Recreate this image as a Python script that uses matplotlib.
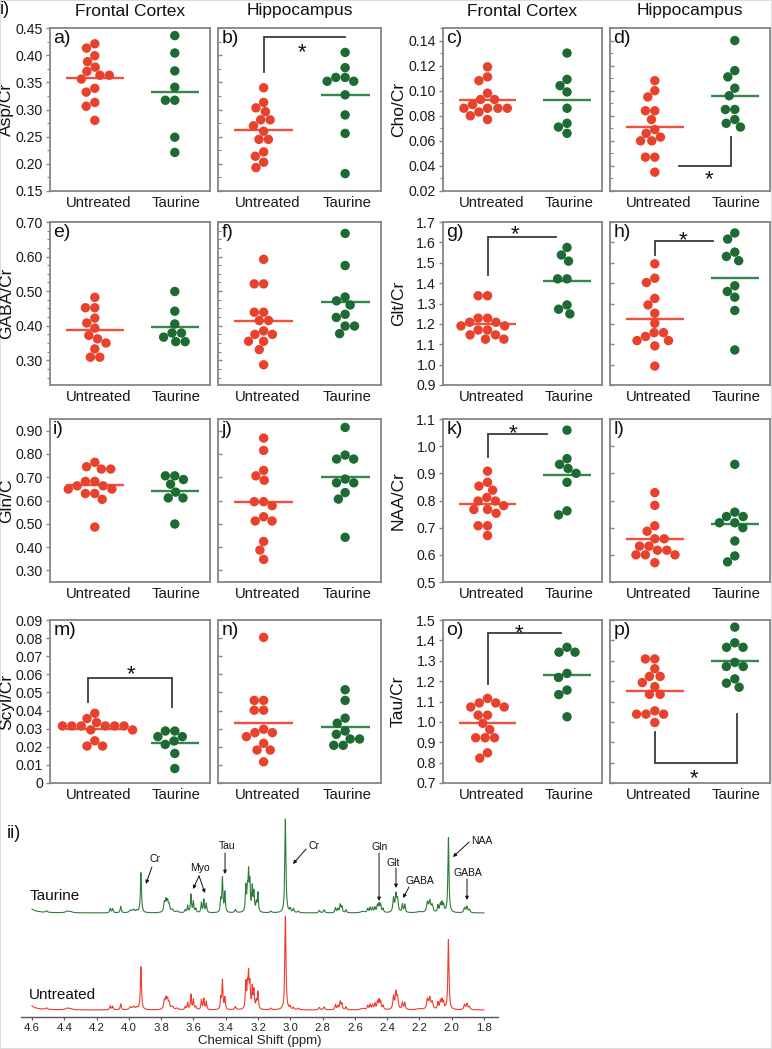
import numpy as np
import matplotlib
matplotlib.use('Agg')
import matplotlib.pyplot as plt
from matplotlib import transforms
from matplotlib.ticker import FixedLocator, MultipleLocator, NullLocator
from matplotlib.patches import Rectangle

plt.rcParams['font.family'] = ['Liberation Sans', 'DejaVu Sans']

# ---------------- data ----------------
groups = ['Untreated', 'Taurine']
regions = ['Frontal Cortex', 'Hippocampus']

asp_fc_unt = [0.421, 0.413, 0.399, 0.388, 0.378, 0.370, 0.363, 0.363, 0.356, 0.339, 0.332, 0.313, 0.306, 0.280]
asp_fc_tau = [0.436, 0.404, 0.371, 0.341, 0.317, 0.317, 0.249, 0.221]
asp_hc_unt = [0.340, 0.313, 0.303, 0.296, 0.281, 0.281, 0.270, 0.260, 0.245, 0.245, 0.222, 0.214, 0.203, 0.193]
asp_hc_tau = [0.405, 0.377, 0.359, 0.352, 0.352, 0.359, 0.327, 0.290, 0.256, 0.182]

cho_fc_unt = [0.119, 0.108, 0.111, 0.098, 0.093, 0.093, 0.086, 0.086, 0.089, 0.086, 0.086, 0.080, 0.083, 0.077]
cho_fc_tau = [0.130, 0.109, 0.104, 0.099, 0.086, 0.074, 0.071, 0.066]
cho_hc_unt = [0.108, 0.100, 0.095, 0.084, 0.084, 0.077, 0.069, 0.066, 0.063, 0.060, 0.060, 0.047, 0.047, 0.035]
cho_hc_tau = [0.140, 0.116, 0.111, 0.102, 0.096, 0.085, 0.085, 0.077, 0.074, 0.071]

gaba_fc_unt = [0.482, 0.452, 0.452, 0.422, 0.408, 0.393, 0.372, 0.362, 0.350, 0.333, 0.309, 0.309]
gaba_fc_tau = [0.499, 0.442, 0.405, 0.379, 0.367, 0.379, 0.354, 0.354]
gaba_hc_unt = [0.592, 0.521, 0.521, 0.439, 0.439, 0.415, 0.415, 0.385, 0.375, 0.375, 0.355, 0.355, 0.331, 0.287]
gaba_hc_tau = [0.667, 0.574, 0.472, 0.483, 0.460, 0.424, 0.433, 0.399, 0.399, 0.377]

glt_fc_unt = [1.338, 1.338, 1.228, 1.228, 1.208, 1.208, 1.190, 1.190, 1.170, 1.170, 1.146, 1.146, 1.125, 1.125]
glt_fc_tau = [1.575, 1.538, 1.508, 1.421, 1.421, 1.272, 1.293, 1.249]
glt_hc_unt = [1.495, 1.424, 1.403, 1.325, 1.293, 1.252, 1.203, 1.157, 1.157, 1.138, 1.118, 1.092, 1.118, 0.993]
glt_hc_tau = [1.646, 1.616, 1.531, 1.552, 1.510, 1.387, 1.359, 1.331, 1.266, 1.072]

gln_fc_unt = [0.764, 0.745, 0.735, 0.735, 0.682, 0.682, 0.663, 0.663, 0.649, 0.649, 0.630, 0.630, 0.605, 0.486]
gln_fc_tau = [0.706, 0.706, 0.690, 0.670, 0.636, 0.611, 0.611, 0.499]
gln_hc_unt = [0.868, 0.815, 0.729, 0.706, 0.687, 0.595, 0.595, 0.578, 0.530, 0.512, 0.512, 0.424, 0.387, 0.347]
gln_hc_tau = [0.914, 0.795, 0.778, 0.778, 0.692, 0.676, 0.676, 0.634, 0.606, 0.442]

naa_fc_unt = [0.908, 0.867, 0.853, 0.838, 0.811, 0.798, 0.798, 0.781, 0.767, 0.767, 0.753, 0.707, 0.707, 0.671]
naa_fc_tau = [1.059, 0.954, 0.933, 0.918, 0.900, 0.867, 0.762, 0.747]
naa_hc_unt = [0.829, 0.782, 0.707, 0.687, 0.659, 0.659, 0.632, 0.632, 0.617, 0.617, 0.600, 0.600, 0.600, 0.571]
naa_hc_tau = [0.933, 0.757, 0.741, 0.741, 0.718, 0.718, 0.700, 0.651, 0.596, 0.574]

scyl_fc_unt = [0.0385, 0.0356, 0.0334, 0.0315, 0.0315, 0.0315, 0.0315, 0.0315, 0.0315, 0.0293, 0.0293, 0.0233, 0.0204, 0.0204]
scyl_fc_tau = [0.0287, 0.0287, 0.0256, 0.0256, 0.0232, 0.0213, 0.0163, 0.0080]
scyl_hc_unt = [0.0804, 0.0456, 0.0456, 0.0402, 0.0402, 0.0297, 0.0278, 0.0278, 0.0256, 0.0219, 0.0182, 0.0182, 0.0117]
scyl_hc_tau = [0.0515, 0.0456, 0.0358, 0.0330, 0.0287, 0.0269, 0.0243, 0.0243, 0.0208, 0.0208]

tau_fc_unt = [1.115, 1.093, 1.093, 1.073, 1.073, 1.033, 1.033, 0.993, 0.962, 0.922, 0.922, 0.922, 0.848, 0.822]
tau_fc_tau = [1.366, 1.342, 1.342, 1.238, 1.218, 1.156, 1.134, 1.025]
tau_hc_unt = [1.309, 1.309, 1.261, 1.223, 1.223, 1.193, 1.173, 1.135, 1.135, 1.054, 1.038, 1.038, 1.038, 0.997]
tau_hc_tau = [1.465, 1.388, 1.366, 1.366, 1.292, 1.272, 1.272, 1.211, 1.190, 1.170]

asp_ticks = [0.15, 0.20, 0.25, 0.30, 0.35, 0.40, 0.45]
cho_ticks = [0.02, 0.04, 0.06, 0.08, 0.10, 0.12, 0.14]
gaba_ticks = [0.30, 0.40, 0.50, 0.60, 0.70]
glt_ticks = [0.9, 1.0, 1.1, 1.2, 1.3, 1.4, 1.5, 1.6, 1.7]
gln_ticks = [0.30, 0.40, 0.50, 0.60, 0.70, 0.80, 0.90]
naa_ticks = [0.5, 0.6, 0.7, 0.8, 0.9, 1.0, 1.1]
scyl_ticks = [0, 0.01, 0.02, 0.03, 0.04, 0.05, 0.06, 0.07, 0.08, 0.09]
tau_ticks = [0.7, 0.8, 0.9, 1.0, 1.1, 1.2, 1.3, 1.4, 1.5]

# NMR spectrum peak table (ppm, half width, height for Taurine / Untreated traces)
peak_ppm = [4.66, 4.51, 4.38, 4.36, 4.115, 4.100, 4.05, 3.99, 3.97, 3.95, 3.925,
            3.78, 3.77, 3.76, 3.75, 3.73, 3.70, 3.65, 3.635, 3.615, 3.60, 3.585,
            3.55, 3.535, 3.52, 3.43, 3.42, 3.405, 3.34,
            3.275, 3.265, 3.258, 3.25, 3.235, 3.225, 3.21, 3.20, 3.12, 3.03,
            3.00, 2.98, 2.95, 2.82, 2.79, 2.72, 2.705, 2.69, 2.68, 2.655, 2.55,
            2.52, 2.505, 2.49, 2.475, 2.46, 2.45, 2.44, 2.425,
            2.36, 2.345, 2.335, 2.305, 2.29, 2.20, 2.15, 2.135, 2.12,
            2.085, 2.07, 2.06, 2.05, 2.02, 1.92, 1.905, 1.89]
peak_hwhm = [0.015, 0.006, 0.012, 0.012, 0.004, 0.004, 0.004, 0.008, 0.008, 0.006, 0.004,
             0.005, 0.005, 0.005, 0.005, 0.008, 0.008, 0.004, 0.0035, 0.0035, 0.0035, 0.004,
             0.0035, 0.0035, 0.0035, 0.0035, 0.0035, 0.0035, 0.005,
             0.0035, 0.0035, 0.0035, 0.0035, 0.0035, 0.0035, 0.004, 0.0035, 0.006, 0.004,
             0.004, 0.004, 0.006, 0.005, 0.005, 0.004, 0.004, 0.004, 0.004, 0.004, 0.015,
             0.004, 0.004, 0.004, 0.004, 0.004, 0.004, 0.004, 0.004,
             0.005, 0.005, 0.005, 0.004, 0.004, 0.02, 0.006, 0.006, 0.006,
             0.004, 0.004, 0.004, 0.004, 0.004, 0.005, 0.005, 0.005]
peak_taurine = [68, 1.5, 1.5, 1.0, 4.5, 4.0, 6.5, 2.5, 3.0, 2.0, 40,
                9, 11, 10, 7, 3, 1.5, 3, 7, 18, 11, 4,
                10, 13, 9, 12, 34, 20, 3,
                25, 20, 36, 27, 24, 19, 9, 19, 1.5, 94,
                4, 4, 1.5, 2.5, 3, 5, 4, 8, 6, 3, 1.5,
                4, 5, 5, 5, 7, 8, 8, 4,
                14, 17, 12, 8, 8, 1, 10, 11, 7,
                7, 8, 9, 7, 75, 5, 6, 3]
peak_untreated = [68, 1.5, 1.5, 1.0, 4.0, 3.5, 6.0, 2.5, 3.0, 2.0, 43,
                  8, 10, 9, 6, 3, 1.5, 3, 7, 15, 10, 3,
                  10, 11, 8, 11, 29, 12, 3,
                  26, 21, 32, 23, 21, 18, 8, 17, 1.5, 94,
                  3, 2, 1.5, 2.5, 3, 5, 4, 8, 6, 3, 1.5,
                  4, 5, 5, 6, 7, 9, 8, 4,
                  13, 16, 11, 7, 7, 1, 10, 11, 7,
                  7, 8, 9, 7, 70, 5, 6, 3]

# ---------------- figure ----------------
W, H = 772, 1049
fig = plt.figure(figsize=(W / 100, H / 100), dpi=100)


def box(l, t, r, b):
    return [l / W, 1 - b / H, (r - l) / W, (b - t) / H]


def fx(x):
    return x / W


def fy(y):
    return 1 - y / H


RED = '#e8412c'
GREEN = '#1d6b33'
RED_L = '#f0513f'
GREEN_L = '#35874a'
SPINE = '#858585'
BRK = '#3a3a3a'


def swarm_offsets(ax, ys, d):
    pts = ax.transData.transform(np.column_stack([np.zeros(len(ys)), ys]))
    py = pts[:, 1]
    order = np.argsort(-py, kind='stable')
    px_l, py_l = [], []
    xs = np.zeros(len(ys))
    for i in order:
        y = py[i]
        cands = [0.0]
        for a, b in zip(px_l, py_l):
            dy = y - b
            if abs(dy) < d:
                dx = np.sqrt(d * d - dy * dy)
                cands += [a + dx, a - dx]
        cands = sorted(cands, key=lambda c: (round(abs(c), 3), c))
        chosen = 0.0
        for c in cands:
            if all((c - a) ** 2 + (y - b) ** 2 >= d * d - 1e-6 for a, b in zip(px_l, py_l)):
                chosen = c
                break
        xs[i] = chosen
        px_l.append(chosen)
        py_l.append(y)
    unit = ax.transData.transform([(1, 0)])[0, 0] - ax.transData.transform([(0, 0)])[0, 0]
    return xs / unit


rows_px = [(28, 191), (222, 385), (419, 582), (620, 783)]
cols_px = [(50, 210), (218, 381), (443, 602), (610, 770)]

panels = [
    dict(label='Asp/Cr', block=0, row=0, lim=(0.15, 0.45), ticks=asp_ticks, fmt='{:.2f}', minor=0.025,
         data=[(asp_fc_unt, asp_fc_tau), (asp_hc_unt, asp_hc_tau)], letters=('a)', 'b)')),
    dict(label='GABA/Cr', block=0, row=1, lim=(0.2285, 0.70), ticks=gaba_ticks, fmt='{:.2f}', minor=0.025,
         data=[(gaba_fc_unt, gaba_fc_tau), (gaba_hc_unt, gaba_hc_tau)], letters=('e)', 'f)')),
    dict(label='Gln/C', block=0, row=2, lim=(0.25, 0.95), ticks=gln_ticks, fmt='{:.2f}', minor=None,
         data=[(gln_fc_unt, gln_fc_tau), (gln_hc_unt, gln_hc_tau)], letters=('i)', 'j)')),
    dict(label='Scyl/Cr', block=0, row=3, lim=(0.0, 0.09), ticks=scyl_ticks, fmt='{:.2f}', minor=None,
         data=[(scyl_fc_unt, scyl_fc_tau), (scyl_hc_unt, scyl_hc_tau)], letters=('m)', 'n)')),
    dict(label='Cho/Cr', block=1, row=0, lim=(0.02, 0.15), ticks=cho_ticks, fmt='{:.2f}', minor=0.01,
         data=[(cho_fc_unt, cho_fc_tau), (cho_hc_unt, cho_hc_tau)], letters=('c)', 'd)')),
    dict(label='Glt/Cr', block=1, row=1, lim=(0.9, 1.7), ticks=glt_ticks, fmt='{:.1f}', minor=None,
         data=[(glt_fc_unt, glt_fc_tau), (glt_hc_unt, glt_hc_tau)], letters=('g)', 'h)')),
    dict(label='NAA/Cr', block=1, row=2, lim=(0.5, 1.1), ticks=naa_ticks, fmt='{:.1f}', minor=None,
         data=[(naa_fc_unt, naa_fc_tau), (naa_hc_unt, naa_hc_tau)], letters=('k)', 'l)')),
    dict(label='Tau/Cr', block=1, row=3, lim=(0.7, 1.5), ticks=tau_ticks, fmt='{:.1f}', minor=None,
         data=[(tau_fc_unt, tau_fc_tau), (tau_hc_unt, tau_hc_tau)], letters=('o)', 'p)')),
]

# significance brackets: path points (x in group units, y in data), star position
brackets = {
    'b)': ([(0, 0.3694), (0, 0.4328), (1, 0.4328)], (0.47, 0.4186)),
    'd)': ([(0.30, 0.040), (0.95, 0.040), (0.95, 0.0627)], (0.68, 0.0352)),
    'g)': ([(0, 1.438), (0, 1.628), (0.86, 1.628)], (0.35, 1.675)),
    'h)': ([(0, 1.536), (0, 1.605), (0.73, 1.605)], (0.35, 1.646)),
    'k)': ([(0, 0.959), (0, 1.045), (0.75, 1.045)], (0.32, 1.072)),
    'm)': ([(-0.09, 0.045), (-0.09, 0.058), (0.96, 0.058), (0.96, 0.0417)], (0.45, 0.0640)),
    'o)': ([(0, 1.186), (0, 1.434), (0.93, 1.434)], (0.40, 1.470)),
    'p)': ([(0, 0.950), (0, 0.797), (1.03, 0.797), (1.03, 1.041)], (0.49, 0.7574)),
}

for p in panels:
    t, b = rows_px[p['row']]
    for k in range(2):
        l, r = cols_px[2 * p['block'] + k]
        ax = fig.add_axes(box(l, t, r, b))
        ax.set_xlim(-0.56, 1.44)
        ax.set_ylim(*p['lim'])
        for s in ax.spines.values():
            s.set_color(SPINE)
            s.set_linewidth(1.3)
        ax.yaxis.set_major_locator(FixedLocator(p['ticks']))
        if p['minor']:
            ax.yaxis.set_minor_locator(MultipleLocator(p['minor']))
        else:
            ax.yaxis.set_minor_locator(NullLocator())
        ax.set_xticks([0.05, 1.02])
        ax.set_xticklabels(groups, fontsize=10.7)
        ax.tick_params(axis='x', length=0, pad=3.5, colors='#1a1a1a')
        if k == 0:
            ax.set_yticklabels(['0' if v == 0 else p['fmt'].format(v) for v in p['ticks']])
            ax.tick_params(axis='y', which='major', direction='out', length=3, width=1,
                           color=SPINE, labelsize=10.2, pad=2, labelcolor='#1a1a1a')
            ax.tick_params(axis='y', which='minor', direction='out', length=2, width=0.8, color=SPINE)
        else:
            ax.set_yticklabels([])
            ax.tick_params(axis='y', which='major', direction='in', length=3, width=1, color=SPINE)
            ax.tick_params(axis='y', which='minor', direction='in', length=2, width=0.8, color=SPINE)
        unt, tau = p['data'][k]
        for gi, (vals, col, lcol, hw) in enumerate([(unt, RED, RED_L, 0.36), (tau, GREEN, GREEN_L, 0.30)]):
            offs = swarm_offsets(ax, vals, 9.4)
            ax.scatter(gi + offs, vals, s=46, color=col, edgecolors='none', zorder=3, clip_on=False)
            m = float(np.mean(vals))
            ax.plot([gi - hw, gi + hw], [m, m], color=lcol, lw=1.7, zorder=2, solid_capstyle='butt')
        letter = p['letters'][k]
        ax.text(0.02, 0.985, letter, transform=ax.transAxes, ha='left', va='top', fontsize=14, color='#111111')
        if letter in brackets:
            path, star = brackets[letter]
            xs_, ys_ = zip(*path)
            ax.plot(xs_, ys_, color=BRK, lw=1.3, zorder=1, solid_joinstyle='miter')
            tr = transforms.offset_copy(ax.transData, fig=fig, y=-0.58 * 16, units='points')
            ax.text(star[0], star[1], '*', transform=tr, ha='center', va='baseline', fontsize=16, color='#111111')
    # y label
    xlab = 6.5 if p['block'] == 0 else 398.5
    fig.text(fx(xlab), fy((t + b) / 2), p['label'], rotation=90, ha='center', va='center', fontsize=12.5,
             color='#111111')

# region titles
for blk in range(2):
    for k in range(2):
        l, r = cols_px[2 * blk + k]
        fig.text(fx((l + r) / 2), fy(11), regions[k], ha='center', va='center', fontsize=12.5, color='#111111')

fig.text(fx(0), fy(9), 'i)', ha='left', va='center', fontsize=13, color='#111111')
fig.text(fx(7), fy(834), 'ii)', ha='left', va='center', fontsize=13, color='#111111')

# ---------------- spectrum ----------------
axs = fig.add_axes(box(21, 810, 498, 1017))
axs.set_xlim(4.668, 1.713)
axs.set_ylim(0, 207)
for side in ['top', 'left', 'right']:
    axs.spines[side].set_visible(False)
axs.spines['bottom'].set_color('#555555')
axs.spines['bottom'].set_linewidth(1.0)
axs.set_yticks([])
shift_ticks = [4.6, 4.4, 4.2, 4.0, 3.8, 3.6, 3.4, 3.2, 3.0, 2.8, 2.6, 2.4, 2.2, 2.0, 1.8]
axs.set_xticks(shift_ticks)
axs.set_xticklabels(['{:.1f}'.format(v) for v in shift_ticks])
axs.tick_params(axis='x', length=2.5, width=0.8, color='#555555', labelsize=8.2, pad=1.5, labelcolor='#222222')
axs.patch.set_alpha(0)

ppm_grid = np.linspace(1.8, 4.6, 7000)
pp = np.array(peak_ppm)
ww = np.array(peak_hwhm)


def trace(heights):
    h = np.array(heights)
    return (h[None, :] / (1 + ((ppm_grid[:, None] - pp[None, :]) / ww[None, :]) ** 2)).sum(axis=1)


axs.plot(ppm_grid, 104 + trace(peak_taurine), color='#2f7d3a', lw=0.8)
axs.plot(ppm_grid, 7 + trace(peak_untreated), color='#ee3d2d', lw=0.8)

ann = [
    ('Cr', (3.84, 158), (3.857, 150), (3.894, 133)),
    ('Tau', (3.392, 171), (3.404, 164), (3.404, 143)),
    ('Cr', (2.855, 171), (2.902, 168), (2.983, 153)),
    ('Gln', (2.444, 170), (2.450, 164), (2.450, 116)),
    ('Glt', (2.363, 154), (2.345, 149), (2.345, 129)),
    ('GABA', (2.200, 136), (2.264, 130), (2.301, 119)),
    ('NAA', (1.812, 176), (1.892, 175), (1.992, 160)),
    ('GABA', (1.899, 144), (1.905, 138), (1.905, 117)),
]
arrow_kw = dict(arrowstyle='-|>', lw=0.7, color='#111111', mutation_scale=5, shrinkA=0, shrinkB=0)
for txt, tpos, tail, tip in ann:
    axs.text(tpos[0], tpos[1], txt, ha='center', va='center', fontsize=7.5, color='#111111')
    axs.annotate('', xy=tip, xytext=tail, arrowprops=arrow_kw)
axs.text(3.559, 149, 'Myo', ha='center', va='center', fontsize=7.5, color='#111111')
axs.annotate('', xy=(3.602, 128), xytext=(3.565, 141), arrowprops=arrow_kw)
axs.annotate('', xy=(3.528, 124), xytext=(3.565, 141), arrowprops=arrow_kw)

fig.text(fx(30), fy(896), 'Taurine', ha='left', va='center', fontsize=11, color='#111111')
fig.text(fx(29), fy(995), 'Untreated', ha='left', va='center', fontsize=11, color='#111111')
fig.text(fx(259.5), fy(1041), 'Chemical Shift (ppm)', ha='center', va='center', fontsize=9.5, color='#222222')

fig.patches.append(Rectangle((0, 0), 1, 1, transform=fig.transFigure, fill=False,
                             edgecolor='#dddddd', lw=1.5))

fig.savefig('out.png', dpi=100)
